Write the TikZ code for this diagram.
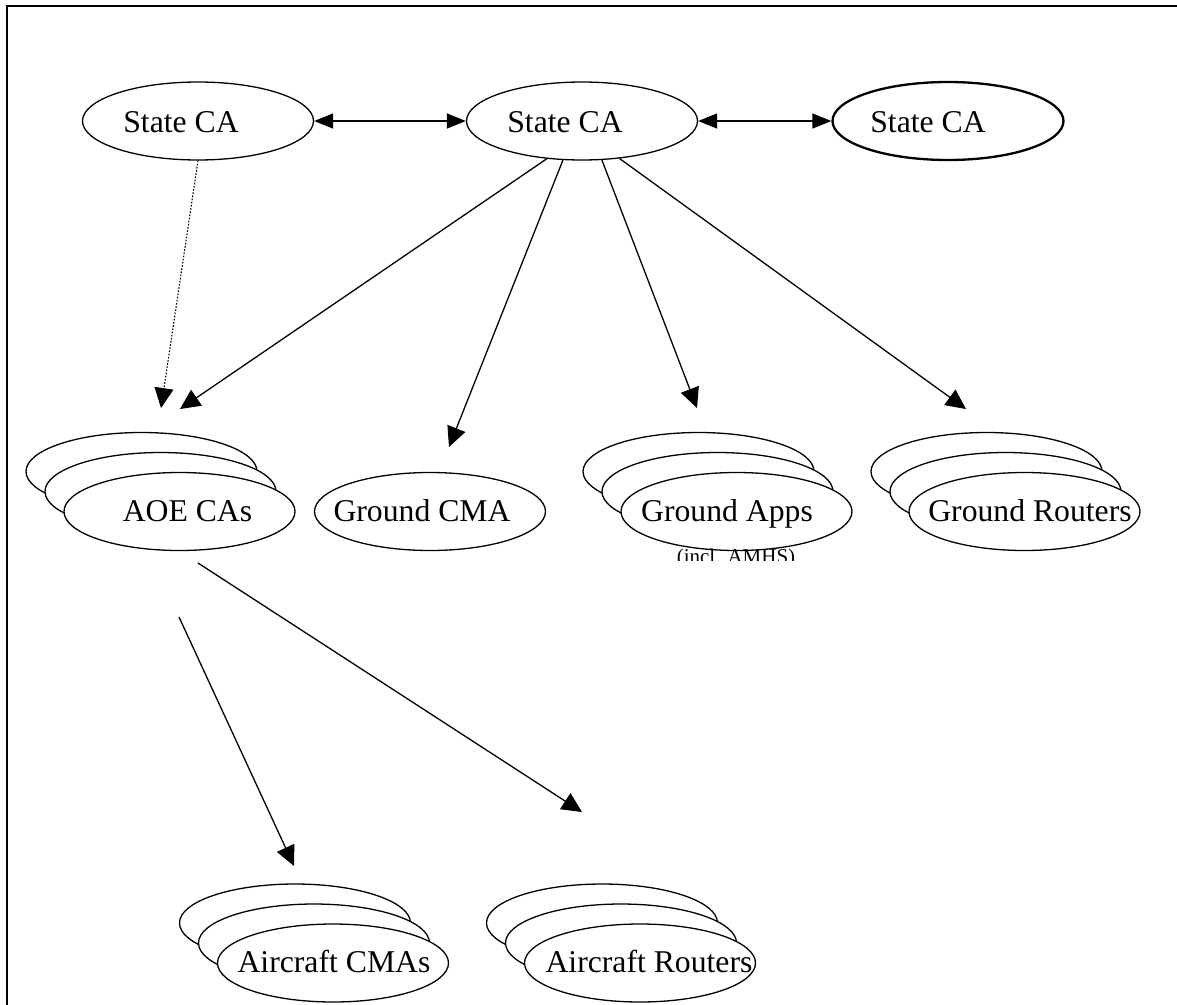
\documentclass[tikz,border=0pt]{standalone}
\usepackage{fontspec}
\setmainfont{Liberation Serif}
\usetikzlibrary{arrows.meta,shapes.geometric}

% three overlapping ellipses; the front one carries the name
\newcommand\ellstack[3]{%
  \node[ell] (#1-3) at (#2-38,#3-40) {};
  \node[ell] (#1-2) at (#2-19,#3-20) {};
  \node[ell] (#1) at (#2,#3) {};
}

\begin{document}
\begin{tikzpicture}[x=1pt,y=-1pt,
  ell/.style={ellipse,draw,fill=white,line width=1.3pt,
    minimum width=231pt,minimum height=78pt,inner sep=0pt},
  lbl/.style={anchor=base,inner sep=0pt,font=\fontsize{31.7}{38}\selectfont},
  note/.style={anchor=base,inner sep=0pt,font=\fontsize{21}{25}\selectfont},
  link/.style={line width=1.3pt,-{Triangle[length=20pt,width=19pt]}},
  both/.style={line width=1.3pt,{Triangle[length=19pt,width=15pt]}-{Triangle[length=19pt,width=15pt]}},
  hint/.style={line width=1.1pt,dash pattern=on 1.6pt off 1.6pt,-{Triangle[length=20pt,width=19pt]}}
]
\useasboundingbox (0,0) rectangle (1177,1004);
\clip (0,0) rectangle (1177,1004);

% outer frame, running off the page on the right and at the bottom
\draw[line width=2pt] (6.5,6) rectangle (1200,1030);

% top row of state certificate authorities
\node[ell] (s1) at (198,121) {};
\node[ell] (s2) at (582,121) {};
\node[ell,line width=2.3pt] (s3) at (948,121) {};
\node[lbl] (s1t) at (181,132) {State CA};
\node[lbl] (s2t) at (565,132) {State CA};
\node[lbl] (s3t) at (928,132) {State CA};

% second row
\ellstack{aoe}{179.5}{511.5}
\node[ell] (gcma) at (430,511.5) {};
\ellstack{gapps}{736.5}{511.5}
\ellstack{grout}{1024.5}{511.5}
\node[lbl] (aoet) at (187.5,521) {AOE CAs};
\node[lbl] (gcmat) at (422,521) {Ground CMA};
\node[lbl] (gappst) at (727,521) {Ground Apps};
\node[lbl] (groutt) at (1030,521) {Ground Routers};
\begin{scope}
  \clip (600,530) rectangle (880,560.5);
  \node[note] (amhs) at (736,563) {(incl. AMHS)};
\end{scope}

% bottom row
\ellstack{acma}{333}{963}
\ellstack{arout}{640}{963}
\node[lbl] (acmat) at (334,972) {Aircraft CMAs};
\node[lbl] (aroutt) at (649,972) {Aircraft Routers};

% arrow tips and free line ends
\coordinate (aoe-tip1) at (161,408);
\coordinate (aoe-tip2) at (180,409);
\coordinate (gcma-tip) at (449,447);
\coordinate (gapps-tip) at (697,408);
\coordinate (grout-tip) at (966,409);
\coordinate (acma-from) at (179,617);
\coordinate (arout-from) at (198,563);
\coordinate (acma-tip) at (294,866);
\coordinate (arout-tip) at (582,812);

% connectors
\draw[both] (s1) -- (s2);
\draw[both] (s2) -- (s3);
\draw[hint] (s1.south) -- (aoe-tip1);
\draw[link] (s2.-133.5) -- (aoe-tip2);
\draw[link] (s2.-116) -- (gcma-tip);
\draw[link] (s2.-63) -- (gapps-tip);
\draw[link] (s2.-45) -- (grout-tip);
\draw[link] (acma-from) -- (acma-tip);
\draw[link] (arout-from) -- (arout-tip);
\end{tikzpicture}
\end{document}
